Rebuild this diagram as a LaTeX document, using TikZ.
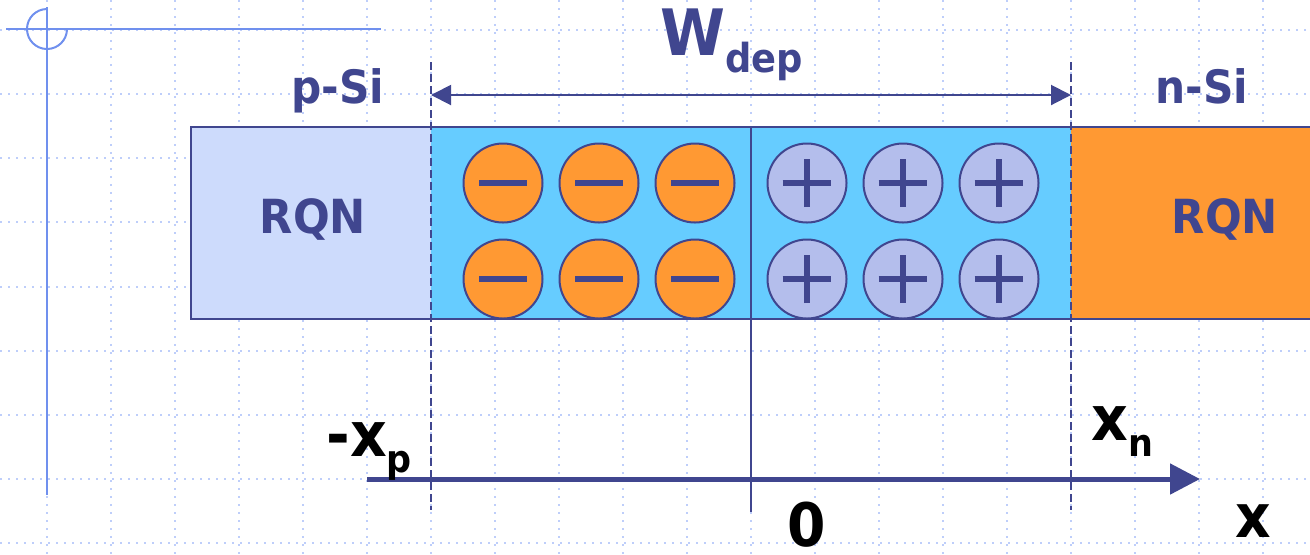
\documentclass[tikz,border=0pt]{standalone}
\usepackage{fontspec}
\setmainfont[FakeStretch=0.92]{DejaVu Sans}
\usetikzlibrary{arrows.meta}
\definecolor{ink}{RGB}{64,70,143}
\definecolor{gridblue}{RGB}{190,206,250}
\definecolor{decoblue}{RGB}{112,144,238}
\definecolor{pside}{RGB}{205,219,252}
\definecolor{depl}{RGB}{102,204,255}
\definecolor{nside}{RGB}{255,153,51}
\definecolor{posfill}{RGB}{180,190,236}
\begin{document}
\begin{tikzpicture}[x=0.5pt,y=-0.5pt,font=\bfseries,
  gridline/.style={gridblue,line width=1pt,dash pattern=on 1pt off 3pt},
  region/.style={ink,line width=1pt},
  edgeline/.style={ink,line width=1pt,dash pattern=on 4pt off 2pt},
  negion/.style={circle,draw=ink,fill=nside,line width=1pt,minimum size=39.5pt,inner sep=0pt},
  posion/.style={circle,draw=ink,fill=posfill,line width=1pt,minimum size=39.5pt,inner sep=0pt},
  signbar/.style={ink,line width=3pt},
  label/.style={inner sep=0pt,text=ink}]
  \useasboundingbox (0,0) rectangle (1310,554);
  \foreach \gx in {47,111,...,1263}
    \draw[gridline] (\gx,0) -- (\gx,554);
  \foreach \k in {0,...,8}
    \draw[gridline] (0,{30+64.15*\k}) -- (1310,{30+64.15*\k});
  \draw[decoblue,line width=1pt] (6,29) -- (381,29);
  \draw[decoblue,line width=1pt] (47,7) -- (47,495);
  \draw[decoblue,line width=1pt] (47,9) arc[start angle=90,end angle=360,radius=10pt];
  \fill[pside] (191,127) rectangle (431,319);
  \fill[depl] (431,127) rectangle (1071,319);
  \fill[nside] (1071,127) rectangle (1310,319);
  \draw[region] (431,127) -- (191,127) -- (191,319) -- (431,319);
  \draw[region] (431,127) -- (1071,127) (431,319) -- (1071,319);
  \draw[region] (1310,127) -- (1071,127) (1071,319) -- (1310,319);
  \draw[ink,line width=0.9pt] (751,127) -- (751,512);
  \draw[edgeline] (431,62) -- (431,510);
  \draw[edgeline] (1071,62) -- (1071,510);
  \foreach \cx [count=\i] in {503,599,695} {
    \foreach \cy [count=\j] in {183,279} {
      \node[negion] (neg\i\j) at (\cx,\cy) {};
      \draw[signbar] ([xshift=-12pt]neg\i\j.center) -- ([xshift=12pt]neg\i\j.center);
    }
  }
  \foreach \cx [count=\i] in {807,903,999} {
    \foreach \cy [count=\j] in {183,279} {
      \node[posion] (pos\i\j) at (\cx,\cy) {};
      \draw[signbar,line width=2.6pt] ([xshift=-12.2pt]pos\i\j.center) -- ([xshift=12.2pt]pos\i\j.center);
      \draw[signbar,line width=2.6pt] ([yshift=-12pt]pos\i\j.center) -- ([yshift=12pt]pos\i\j.center);
    }
  }
  \node[label,anchor=base,font=\bfseries\fontsize{23pt}{23pt}\selectfont] (psi) at (338,103) {p-Si};
  \node[label,anchor=base,font=\bfseries\fontsize{23pt}{23pt}\selectfont] (nsi) at (1202,103) {n-Si};
  \node[label,anchor=base,font=\bfseries\fontsize{23.5pt}{23.5pt}\selectfont] (rqnp) at (313,233) {RQN};
  \node[label,anchor=base,font=\bfseries\fontsize{23.5pt}{23.5pt}\selectfont] (rqnn) at (1225,233) {RQN};
  \node[label,anchor=base west,font=\bfseries\fontsize{32pt}{32pt}\selectfont] (wdep) at (660,55)
    {W{\fontsize{20pt}{20pt}\selectfont\raisebox{-8.5pt}{dep}}};
  \coordinate (wl) at (431,95);
  \coordinate (wr) at (1071,95);
  \draw[ink,line width=1pt,{Triangle[length=10pt,width=10pt]}-{Triangle[length=10pt,width=10pt]}] (wl) -- (wr);
  \coordinate (xs) at (367,479);
  \coordinate (xe) at (1200,479);
  \draw[ink,line width=2.5pt,-{Triangle[length=15pt,width=15pt]}] (xs) -- (xe);
  \node[inner sep=0pt,anchor=base west,font=\bfseries\fontsize{31pt}{31pt}\selectfont] (xp) at (326,456)
    {-x{\fontsize{19pt}{19pt}\selectfont\raisebox{-8pt}{p}}};
  \node[inner sep=0pt,anchor=base west,font=\bfseries\fontsize{31pt}{31pt}\selectfont] (xn) at (1091,440)
    {x{\fontsize{19pt}{19pt}\selectfont\raisebox{-8pt}{n}}};
  \node[inner sep=0pt,anchor=base west,font=\bfseries\fontsize{30pt}{30pt}\selectfont] (xaxis) at (1235,537) {x};
  \node[inner sep=0pt,anchor=base,font=\bfseries\fontsize{30pt}{30pt}\selectfont] (zero) at (807,546) {0};
\end{tikzpicture}
\end{document}
